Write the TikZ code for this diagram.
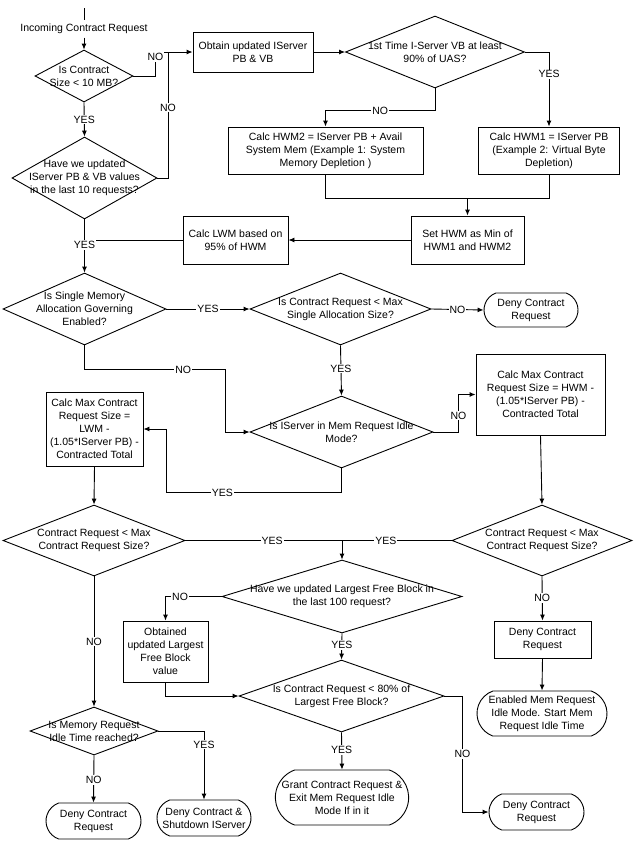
\documentclass[tikz,border=0pt]{standalone}
\usepackage{fontspec}
\setmainfont{Liberation Sans}
\usetikzlibrary{positioning,shapes.geometric,shapes.misc,arrows.meta,calc}

\begin{document}
\begin{tikzpicture}[
    x=1pt, y=-1pt,
    every node/.style={font=\fontsize{10.5}{13}\selectfont},
    decision/.style={diamond, draw, inner sep=0pt},
    ask/.style={label={[align=center]center:#1}},
    process/.style={rectangle, draw, align=center, inner sep=2pt},
    terminal/.style={rounded rectangle, rounded rectangle arc length=140, draw, align=center, inner sep=1pt},
    lbl/.style={fill=white, inner sep=1pt},
    line width=0.9pt, >={Latex[length=6pt,width=5pt]}
]
\useasboundingbox (0,0) rectangle (634,841);

\coordinate (start) at (84,8);
\node (inc) at (84,29) {Incoming Contract Request};

\node [decision, minimum width=98pt, minimum height=52pt, ask={Is Contract\\Size < 10 MB?}] (D1) at (84,76) {};
\node [decision, minimum width=145pt, minimum height=82pt, ask={Have we updated\\IServer PB \& VB values\\in the last 10 requests?}] (D2) at (84.5,178) {};
\node [process, minimum width=120pt, minimum height=40pt] (B1) at (253,52) {Obtain updated IServer\\PB \& VB};
\node [decision, minimum width=179pt, minimum height=72pt, ask={1st Time I-Server VB at least\\90\% of UAS?}] (D4) at (435,52) {};
\node [process, minimum width=195pt, minimum height=47pt] (B2) at (325.5,150.5) {Calc HWM2 = IServer PB + Avail\\System Mem (Example 1: System\\Memory Depletion )};
\node [process, minimum width=141pt, minimum height=47pt] (B3) at (549,150.5) {Calc HWM1 = IServer PB\\(Example 2: Virtual Byte\\Depletion)};
\node [process, minimum width=113pt, minimum height=48pt] (B4) at (467.5,240) {Set HWM as Min of\\HWM1 and HWM2};
\node [process, minimum width=105pt, minimum height=48pt] (LVM) at (235.5,240) {Calc LWM based on\\95\% of HWM};
\coordinate (nojoin) at (168,52);
\coordinate (merge) at (467.5,198);

\node [decision, minimum width=163pt, minimum height=72pt, ask={Is Single Memory\\Allocation Governing\\Enabled?}] (D3) at (84.5,309) {};
\node [decision, minimum width=181pt, minimum height=72pt, ask={Is Contract Request < Max\\Single Allocation Size?}] (D5) at (340.5,309) {};
\node [terminal, minimum width=96pt, minimum height=34pt] (Deny1) at (531,310) {Deny Contract\\Request};
\node [decision, minimum width=183pt, minimum height=72pt, ask={Is IServer in Mem Request Idle\\Mode?}] (D6) at (341.5,432) {};
\node [process, minimum width=129pt, minimum height=81pt] (B6) at (540.5,394.5) {Calc Max Contract\\Request Size = HWM -\\(1.05*IServer PB) -\\Contracted Total};
\node [process, minimum width=97pt, minimum height=74pt, inner sep=1pt] (B5) at (94.5,429) {Calc Max Contract\\Request Size =\\LWM -\\(1.05*IServer PB) -\\Contracted Total};

\node [decision, minimum width=182pt, minimum height=71pt, ask={Contract Request < Max\\Contract Request Size?}] (D7) at (94,540.5) {};
\node [decision, minimum width=180pt, minimum height=71pt, ask={Contract Request < Max\\Contract Request Size?}] (D8) at (542,540.5) {};
\node [decision, minimum width=240pt, minimum height=73pt, ask={Have we updated Largest Free Block in\\the last 100 request?}] (D9) at (342,596.5) {};
\node [process, minimum width=85pt, minimum height=61pt, inner sep=1pt] (B7) at (165.5,651.5) {Obtained\\updated Largest\\Free Block\\value};
\node [decision, minimum width=205pt, minimum height=72pt, ask={Is Contract Request < 80\% of\\Largest Free Block?}] (D10) at (341.5,696) {};
\node [terminal, minimum width=132pt, minimum height=55pt] (Grant) at (342,797.5) {Grant Contract Request \&\\Exit Mem Request Idle\\Mode If in it};
\node [terminal, minimum width=97pt, minimum height=36pt] (Deny3) at (536.5,812) {Deny Contract\\Request};
\node [process, minimum width=97pt, minimum height=37pt] (B8) at (542.5,639.5) {Deny Contract\\Request};
\node [terminal, minimum width=132pt, minimum height=45pt] (Enabled) at (542,713.5) {Enabled Mem Request\\Idle Mode. Start Mem\\Request Idle Time};
\node [decision, minimum width=128pt, minimum height=48pt, ask={Is Memory Request\\Idle Time reached?}] (D11) at (94,731) {};
\node [terminal, minimum width=96pt, minimum height=36pt] (Deny5) at (204,818) {Deny Contract \&\\Shutdown IServer};
\node [terminal, minimum width=97pt, minimum height=36pt] (Deny4) at (93.5,821) {Deny Contract\\Request};

% top part
\draw (start) -- (inc.north);
\draw [->] (inc.south) -- (D1.north);
\draw [->] (D1.east) -- ++(22,0) |- node [lbl, pos=0.4] {NO} (B1.west);
\draw (D2.east) -| node [lbl, pos=0.78] {NO} (nojoin);
\draw [->] (D1.south) -- node [lbl] {YES} (D2.north);
\draw [->] (B1.east) -- (D4.west);
\draw [->] (D4.east) -| node [lbl, pos=0.65] {YES} (B3.north);
\draw [->] (D4.south) -- ++(0,22) -| node [lbl, pos=0.25] {NO} (B2.north);
\draw (B2.south) -- ++(0,24) -| (B3.south);
\draw [->] (merge) -- (B4.north);
\draw [->] (B4.west) -- (LVM.east);
\draw (LVM.west) -- (LVM.west -| D2.south);
\draw [->] (D2.south) -- node [lbl, pos=0.48] {YES} (D3.north);

% middle part
\draw [->] (D3.east) -- node [lbl] {YES} (D5.west);
\draw [->] (D5.east) -- node [lbl] {NO} (Deny1.west);
\draw [->] (D5.south) -- node [lbl, pos=0.46] {YES} (D6.north);
\draw [->] (D3.south) -- ++(0,24) -| node [lbl, pos=0.35] {NO} ($(D6.west)+(-24,0)$) -- (D6.west);
\draw [->] (D6.east) -- ++(25,0) |- node [lbl, pos=0.22] {NO} (B6.west);
\draw [->] (D6.south) -- ++(0,24) -| node [lbl, pos=0.34] {YES} ($(B5.east)+(23,0)$) -- (B5.east);
\draw [->] (B5.south) -- (D7.north);
\draw [->] (B6.south) -- (D8.north);

% bottom part
\draw [->] (D7.east) -| node [lbl, pos=0.277] {YES} (D9.north);
\draw (D8.west) -- node [lbl, pos=0.6] {YES} (D8.west -| D9.north);
\draw [->] (D9.west) -| node [lbl, pos=0.37] {NO} (B7.north);
\draw [->] (B7.south) |- (D10.west);
\draw [->] (D9.south) -- node [lbl, pos=0.44] {YES} (D10.north);
\draw [->] (D10.south) -- node [lbl, pos=0.47] {YES} (Grant.north);
\draw [->] (D10.east) -- ++(18,0) |- node [lbl, pos=0.25] {NO} (Deny3.west);
\draw [->] (D8.south) -- node [lbl, pos=0.49] {NO} (B8.north);
\draw [->] (B8.south) -- (Enabled.north);
\draw [->] (D7.south) -- node [lbl] {NO} (D11.north);
\draw [->] (D11.south) -- node [lbl, pos=0.52] {NO} (Deny4.north);
\draw [->] (D11.east) -| node [lbl, pos=0.6] {YES} (Deny5.north);

\end{tikzpicture}
\end{document}
